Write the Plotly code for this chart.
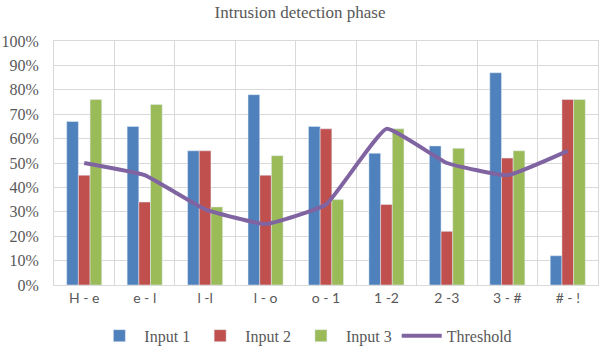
import plotly.graph_objects as go

categories = ["H - e", "e - l", "l -l", "l - o", "o - 1", "1 -2", "2 -3", "3 - #", "# - !"]
input1 = [67, 65, 55, 78, 65, 54, 57, 87, 12]
input2 = [45, 34, 55, 45, 64, 33, 22, 52, 76]
input3 = [76, 74, 32, 53, 35, 64, 56, 55, 76]
threshold = [50, 45, 31, 25, 33, 64, 50, 45, 55]
y_ticks = [0, 10, 20, 30, 40, 50, 60, 70, 80, 90, 100]
y_tick_text = [f"{v}%" for v in y_ticks]

serif = "Liberation Serif"
sans = "Lato"
grey = "#595959"
grid = "#D9D9D9"

fig = go.Figure()
fig.add_bar(x=categories, y=input1, name="Input 1", marker_color="#4F81BD")
fig.add_bar(x=categories, y=input2, name="Input 2", marker_color="#C0504D")
fig.add_bar(x=categories, y=input3, name="Input 3", marker_color="#9BBB59")
fig.add_scatter(x=categories, y=threshold, name="Threshold", mode="lines",
                line=dict(color="#8064A2", width=4, shape="spline", smoothing=0.35))

fig.update_layout(
    width=600, height=355,
    margin=dict(l=54, r=2, t=41, b=64),
    paper_bgcolor="white", plot_bgcolor="white",
    barmode="group", bargap=0.42, bargroupgap=0,
    title=dict(text="Intrusion detection phase", x=0.5, xanchor="center",
               y=1 - 12 / 355, yanchor="middle",
               font=dict(family=serif, size=17, color=grey)),
    legend=dict(orientation="h", x=0.463, xanchor="center", y=-0.208, yanchor="middle",
                font=dict(family=serif, size=16, color=grey), itemwidth=40,
                tracegroupgap=0),
    showlegend=True,
    xaxis=dict(type="category", tickson="boundaries", showgrid=True, gridcolor=grid,
               gridwidth=1, showline=True, linecolor=grid, mirror=True, ticks="",
               automargin=False,
               tickfont=dict(family=sans, size=14, color=grey)),
    yaxis=dict(range=[0, 100], tickmode="array", tickvals=y_ticks, ticktext=y_tick_text,
               showgrid=True, gridcolor=grid, gridwidth=1, showline=True, linecolor=grid,
               mirror=True, zeroline=False, ticks="outside", ticklen=11, tickcolor="white",
               automargin=False,
               tickfont=dict(family=serif, size=16, color=grey)),
)

# remove the browser's default 8px page margin so the figure sits at the window corner
fig.write_html("out.html", config={"displayModeBar": False},
               post_script="document.body.style.margin='0';")
